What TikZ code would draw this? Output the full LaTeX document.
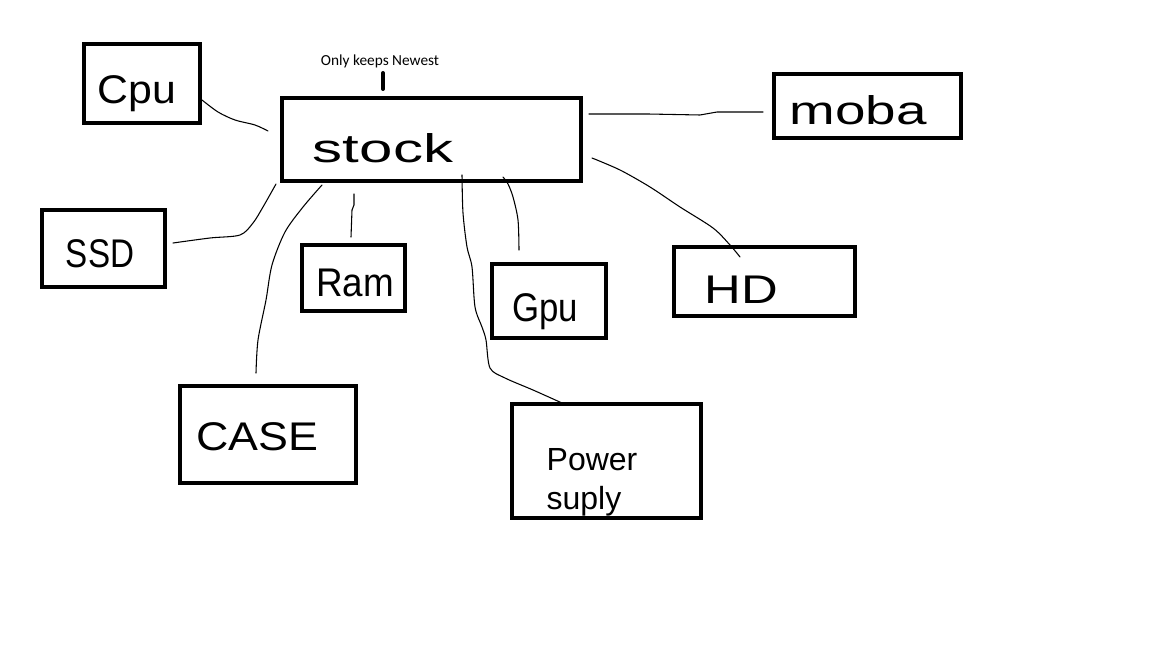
\documentclass[tikz,border=0pt]{standalone}
\usepackage{graphicx}
\usepackage{fontspec}
\setmainfont{Liberation Sans}
\newfontfamily\calibfont{Carlito}
\begin{document}
\begin{tikzpicture}[x=0.75pt,y=-0.75pt,
  box/.style={draw,line width=3pt,inner sep=0pt,outer sep=0pt},
  hand/.style={font=\fontsize{30}{32}\selectfont,inner sep=0pt},
  small/.style={font=\fontsize{24}{29}\selectfont,inner sep=0pt,align=left},
  wire/.style={line width=0.8pt,line join=round,line cap=round},
  tick/.style={line width=3pt,line cap=round}]
\useasboundingbox (0,0) rectangle (1152,648);
\fill[white] (0,0) rectangle (1152,648);

% boxes
\node[box,minimum width=87pt,minimum height=59.25pt] (cpu) at (142,83.5) {};
\node[box,minimum width=224.25pt,minimum height=62.25pt] (stock) at (431.5,139.5) {};
\node[box,minimum width=140.25pt,minimum height=48pt] (moba) at (867.5,106) {};
\node[box,minimum width=92.25pt,minimum height=57.75pt] (ssd) at (103.5,248.5) {};
\node[box,minimum width=77.25pt,minimum height=49.5pt] (ram) at (353.5,278) {};
\node[box,minimum width=85.5pt,minimum height=55.5pt] (gpu) at (549,301) {};
\node[box,minimum width=135.75pt,minimum height=51.75pt] (hd) at (764.5,281.5) {};
\node[box,minimum width=132pt,minimum height=72.75pt] (case) at (268,434.5) {};
\node[box,minimum width=141.75pt,minimum height=85.5pt] (psu) at (606.5,461) {};

% labels
\node[hand] (tcpu) at (137,94) {\scalebox{1.07}[1]{Cpu}};
\node[hand] (tstock) at (383,148) {\scalebox{1.5}[1]{stock}};
\node[hand] (tmoba) at (858,110) {\scalebox{1.37}[1]{moba}};
\node[hand] (tssd) at (100,254) {\scalebox{0.83}[1]{SSD}};
\node[hand] (tram) at (355,283) {\scalebox{0.92}[1]{Ram}};
\node[hand] (tgpu) at (545,312) {\scalebox{0.87}[1]{Gpu}};
\node[hand] (thd) at (741,290) {\scalebox{1.27}[1]{HD}};
\node[hand] (tcase) at (257,437) {\scalebox{1.12}[1]{CASE}};
\node[small] (tpsu) at (592,482) {Power\\suply};
\node[inner sep=0pt,font=\calibfont\fontsize{11.5}{13}\selectfont] (note) at (380,61) {Only keeps Newest};

% tick under note
\coordinate (mA) at (383,73);
\coordinate (mB) at (383,89);
\draw[tick] (mA) -- (mB);

% connectors
\coordinate (cpuA) at (202,100);
\coordinate (cpuB) at (268,131);
\draw[wire] plot[smooth,tension=0.5] coordinates {(cpuA) (218,112) (235,120) (255,125) (cpuB)};

\coordinate (mobA) at (589,114);
\coordinate (mobB) at (763,112);
\draw[wire] (mobA) -- (648,114) -- (700,115) -- (717,112) -- (mobB);

\coordinate (hdA) at (592,158);
\coordinate (hdB) at (740,257);
\draw[wire] plot[smooth,tension=0.5] coordinates {(hdA) (620,170) (650,187) (680,207) (713,228) (730,245) (hdB)};

\coordinate (ssdA) at (173,243);
\coordinate (ssdB) at (276,184);
\draw[wire] plot[smooth,tension=0.5] coordinates {(ssdA) (210,238) (240,235) (253,223) (263,207) (ssdB)};

\coordinate (caseA) at (322,185);
\coordinate (caseB) at (256,373);
\draw[wire] plot[smooth,tension=0.5] coordinates {(caseA) (303,207) (285,232) (272,265) (266,300) (258,340) (caseB)};

\coordinate (ramA) at (354,194);
\coordinate (ramB) at (351,237);
\draw[wire] (ramA) -- (354,205) -- (352,210) -- (ramB);

\coordinate (psuA) at (462,175);
\coordinate (psuB) at (562,403);
\draw[wire] plot[smooth,tension=0.5] coordinates {(psuA) (463,213) (467,247) (472,267) (475,307) (482,327) (486,340) (490,368) (505,378) (533,390) (psuB)};

\coordinate (gpuA) at (503,177);
\coordinate (gpuB) at (519,250);
\draw[wire] plot[smooth,tension=0.5] coordinates {(gpuA) (508,184) (513,197) (518,220) (gpuB)};
\end{tikzpicture}
\end{document}
